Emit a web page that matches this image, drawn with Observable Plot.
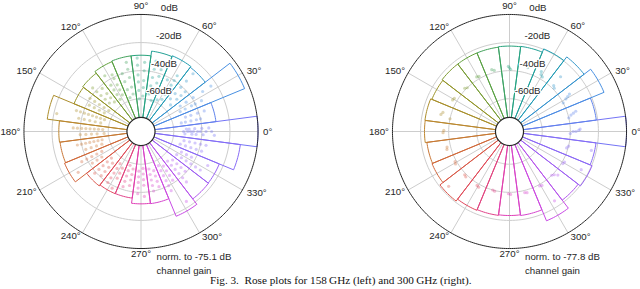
<!DOCTYPE html>
<html><head><meta charset="utf-8">
<script src="https://cdn.jsdelivr.net/npm/d3@7"></script>
<script src="https://cdn.jsdelivr.net/npm/@observablehq/plot@0.6"></script>
<style>
body{margin:0;background:#fff;}
#wrap{position:relative;width:640px;height:289px;overflow:hidden;}
#left,#right{position:absolute;top:0;width:320px;}
#left{left:0}#right{left:320px}
#cap{position:absolute;left:210px;top:274px;font-family:"Liberation Serif","Times New Roman",serif;font-size:11.2px;white-space:nowrap;color:#111;}
</style></head><body>
<div id="wrap"><div id="left"></div><div id="right"></div>
<div id="cap">Fig. 3.&nbsp;&nbsp;Rose plots for 158&#8201;GHz (left) and 300&#8201;GHz (right).</div></div>
<script>
// ---- data ----
const binAngles = [0,15,30,45,60,75,90,105,120,135,150,165,180,195,210,225,240,255,270,285,300,315,330,345];
const gain158 = [0,-29.5,-3.5,-25.7,-25,-25.6,-29,-29,-29.5,-31,-31.7,-16,-24.8,-25.2,-24.4,-34.5,-35.4,-35.5,-31.8,-31.5,-18,-22.8,-23,-12];
const gain300 = [0,-21,-10.5,-16.4,-19.7,-22.2,-22.5,-22.8,-22.8,-22.8,-23.5,-22.6,-22.8,-24,-23.6,-20.9,-22.6,-23.1,-23.5,-23,-14.5,-21.7,-19.7,-21.2];
const dots158 = [
 [357,-52],[357,-47],[357,-44],[357,-39],[357,-31],[0,-53],[0,-50],[0,-48],[0,-46],[0,-43],[0,-41],[0,-37],[0,-33],[3,-51],[3,-49],[3,-45],[3,-40],[3,-35],
 [12,-54],[12,-51],[12,-47],[12,-43],[12,-40],[18,-50],[18,-46],[18,-41],[18,-36],
 [27,-52],[27,-48],[27,-43],[27,-40],[27,-35],[33,-50],[33,-45],[33,-39],[33,-31],[33,-24],
 [42,-55],[42,-49],[42,-45],[42,-41],[48,-52],[48,-47],[48,-41],[48,-35],[48,-28],
 [57,-56],[57,-52],[57,-47],[57,-44],[57,-40],[57,-36],[63,-58],[63,-50],[63,-42],
 [72,-60],[72,-54],[72,-47],[72,-42],[72,-37],[78,-56],[78,-50],[78,-44],[78,-38],[78,-32],
 [87,-58],[87,-52],[87,-47],[87,-40],[87,-34],[93,-60],[93,-54],[93,-48],[93,-43],[93,-36],[93,-31],
 [102,-56],[102,-51],[102,-44],[102,-38],[102,-33],[108,-58],[108,-52],[108,-46],[108,-40],
 [117,-54],[117,-50],[117,-46],[117,-41],[117,-38],[123,-56],[123,-52],[123,-48],[123,-44],[123,-36],
 [132,-55],[132,-51],[132,-47],[132,-42],[138,-53],[138,-49],[138,-45],[138,-41],[138,-37],
 [147,-56],[147,-52],[147,-48],[147,-44],[147,-40],[153,-54],[153,-50],[153,-46],[153,-42],
 [162,-56],[162,-53],[162,-50],[162,-47],[162,-44],[162,-41],[162,-38],[162,-35],[168,-54],[168,-50],[168,-46],[168,-42],[168,-38],[168,-22],
 [177,-56],[177,-53],[177,-50],[177,-47],[177,-44],[177,-41],[177,-38],[177,-35],[183,-57],[183,-52],[183,-48],[183,-44],[183,-40],
 [192,-55],[192,-52],[192,-49],[192,-46],[192,-43],[192,-40],[192,-37],[198,-54],[198,-50],[198,-46],[198,-42],
 [207,-52],[207,-48],[207,-44],[207,-40],[207,-36],[213,-50],[213,-46],[213,-42],[213,-30],
 [222,-55],[222,-51],[222,-47],[222,-43],[222,-39],[228,-53],[228,-49],[228,-45],[228,-41],
 [237,-56],[237,-52],[237,-48],[237,-44],[237,-40],[243,-54],[243,-50],[243,-46],[243,-38],
 [252,-58],[252,-54],[252,-50],[252,-46],[252,-42],[258,-56],[258,-52],[258,-48],[258,-44],
 [267,-55],[267,-51],[267,-47],[267,-43],[267,-39],[273,-57],[273,-53],[273,-49],[273,-45],[273,-37],
 [282,-56],[282,-52],[282,-48],[282,-44],[282,-40],[288,-54],[288,-50],[288,-46],[288,-42],
 [297,-56],[297,-52],[297,-48],[297,-44],[297,-40],[297,-36],[303,-54],[303,-50],[303,-46],[303,-42],[303,-24],
 [312,-55],[312,-51],[312,-47],[312,-43],[312,-39],[312,-35],[318,-53],[318,-49],[318,-45],[318,-41],
 [327,-53],[327,-49],[327,-45],[327,-41],[327,-37],[327,-33],[333,-51],[333,-47],[333,-43],[333,-30],
 [342,-54],[342,-50],[342,-46],[342,-42],[342,-38],[348,-52],[348,-48],[348,-44],[348,-40],[348,-36]
];
const dots300 = [
 [358,-40],[0,-38],[0,-36],[1,-34],[2,-33],
 [13,-40],[15,-38],[16,-36],[17,-34],
 [28,-40],[30,-37],[31,-35],[32,-33],
 [44,-39],[46,-38],[47,-30],
 [59,-38],[61,-37],[62,-35],
 [74,-36],[76,-35],
 [89,-39],[90,-38],[91,-37],
 [104,-38.5],[106,-37.5],
 [119,-38.5],[121,-38],
 [134,-40],[136,-39],
 [149,-37.5],[151,-37],
 [164,-34],[166,-33],[168,-40],
 [179,-36.5],[181,-36],
 [194,-37.5],[196,-37],
 [209,-39],[211,-38.5],
 [224,-39],[226,-38.5],[222,-25],
 [239,-38.5],[241,-38],
 [254,-40],[256,-39.5],
 [269,-39],[271,-38.5],
 [284,-38.5],[286,-38],
 [299,-39],[301,-38.5],[303,-24.5],
 [314,-40],[316,-39],[318,-37],
 [329,-39],[331,-38.5],[332,-25.5],
 [344,-41],[346,-40],[347,-23.5]
];
const ringTicks = [0,-20,-40,-60];
const ringLabels = ["0dB","-20dB","-40dB","-60dB"];
const thetaTicks = [0,30,60,90,120,150,180,210,240,270,300,330];
const thetaLabels = ["0°","30°","60°","90°","120°","150°","180°","210°","240°","270°","300°","330°"];
const normGain = ["-75.1","-77.8"];

// ---- radial model (dB -> radius) ----
const DB_CENTER = -83.3;   // dB value at the very centre
const DB_HOLE = -73.3;     // inner hole edge
const PX_PER_DB = 1.405;
const rho = db => db - DB_CENTER;
const px = (a, db) => rho(db) * Math.cos(a * Math.PI / 180);
const py = (a, db) => rho(db) * Math.sin(a * Math.PI / 180);
const binOf = a => ((Math.round(a / 15) * 15) % 360 + 360) % 360;

const colorScale = {
  type: "linear",
  domain: [0,30,60,90,120,150,180,210,240,270,300,330,360],
  range: ["#7474f6","#4890e2","#1f9eb0","#27a37c","#5fa03a","#9a9326","#be8630","#d3663c","#e2465c","#e03eb6","#c94ae6","#9962f5","#7474f6"],
  interpolate: "rgb"
};

function rose(gains, dots, norm, cx) {
  const W = 320, H = 272, cy = 131, k = PX_PER_DB;
  const font = "Liberation Sans, Arial, Helvetica, sans-serif";
  const fs = 9.7;
  const ringPts = [];
  for (const db of [-20, -40, -60]) for (let a = 0; a < 360; a += 2) ringPts.push({db, a});
  const outerPts = []; for (let a = 0; a < 360; a += 1) outerPts.push({a});
  const wedgePts = [];
  binAngles.forEach((b, i) => {
    const g = gains[i];
    wedgePts.push({b, a: b - 7.5, db: DB_HOLE});
    for (let t = -7.5; t <= 7.5; t += 1.5) wedgePts.push({b, a: b + t, db: g});
    wedgePts.push({b, a: b + 7.5, db: DB_HOLE});
  });
  const dotData = dots.map(([a, db]) => ({a, db, b: binOf(a)}));
  const LR = 122 / k + DB_CENTER;   // label ring (in dB units)
  const LRL = 120.5 / k + DB_CENTER; // left-side label ring
  const thetaData = thetaTicks.map((a, i) => ({a, label: thetaLabels[i]}));
  const tcommon = {x: d => px(d.a, LR), y: d => py(d.a, LR), text: "label", fontSize: fs, fontFamily: font, fill: "#262626"};
  return Plot.plot({
    width: W, height: H, margin: 0,
    x: {domain: [-cx / k, (W - cx) / k], range: [0, W], axis: null},
    y: {domain: [-(H - cy) / k, cy / k], range: [H, 0], axis: null},
    color: colorScale,
    style: {background: "transparent", overflow: "visible"},
    marks: [
      Plot.line(ringPts, {x: d => px(d.a, d.db), y: d => py(d.a, d.db), z: "db", curve: "linear-closed", stroke: "#cdcdcd", strokeWidth: 1}),
      Plot.link(thetaTicks, {x1: 0, y1: 0, x2: a => px(a, 0), y2: a => py(a, 0), stroke: "#cdcdcd", strokeWidth: 1}),
      Plot.dot(dotData, {x: d => px(d.a, d.db), y: d => py(d.a, d.db), r: 1.6, fill: "b", fillOpacity: 0.36, stroke: null}),
      Plot.line(wedgePts, {x: d => px(d.a, d.db), y: d => py(d.a, d.db), z: "b", stroke: "b", curve: "linear-closed", strokeWidth: 1}),
      Plot.line(outerPts, {x: d => px(d.a, 0), y: d => py(d.a, 0), curve: "linear-closed", stroke: "#262626", strokeWidth: 1}),
      Plot.dot([0], {x: 0, y: 0, r: rho(DB_HOLE) * k, fill: "white", stroke: "#262626", strokeWidth: 1.2}),
      Plot.text(ringTicks.map((db, i) => ({db, label: ringLabels[i]})), {x: d => px(80, d.db), y: d => py(80, d.db), text: "label", textAnchor: "start", lineAnchor: "bottom", dx: -0.5, dy: -5, fontSize: fs, fontFamily: font, fill: "#262626", stroke: "white", strokeWidth: 2.5}),
      Plot.text(thetaData, {...tcommon, filter: d => Math.cos(d.a * Math.PI / 180) > 0.1, textAnchor: "start", lineAnchor: "middle"}),
      Plot.text(thetaData, {...tcommon, x: d => px(d.a, LRL), y: d => py(d.a, LRL), filter: d => Math.cos(d.a * Math.PI / 180) < -0.1, textAnchor: "end", lineAnchor: "middle"}),
      Plot.text(thetaData, {...tcommon, filter: d => d.a === 90, textAnchor: "middle", lineAnchor: "bottom", dy: -1}),
      Plot.text(thetaData, {...tcommon, filter: d => d.a === 270, textAnchor: "middle", lineAnchor: "top", dy: -3}),
      Plot.text([`norm. to ${norm} dB\nchannel gain`], {x: px(270, LR), y: py(270, LR), text: d => d, textAnchor: "start", lineAnchor: "top", dx: 15.5, dy: -3, lineHeight: 1.4, fontSize: fs, fontFamily: font, fill: "#262626"})
    ]
  });
}
document.getElementById("left").append(rose(gain158, dots158, normGain[0], 140.5));
document.getElementById("right").append(rose(gain300, dots300, normGain[1], 189));
</script>
</body></html>
